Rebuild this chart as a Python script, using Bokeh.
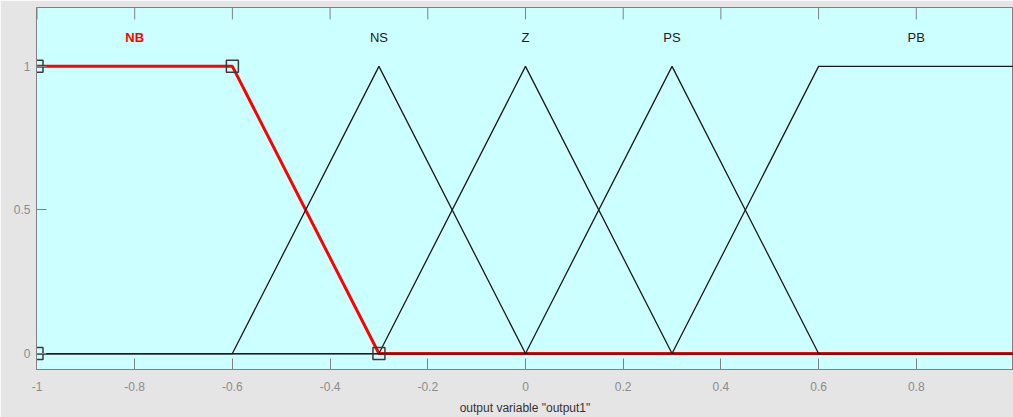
from bokeh.plotting import figure
from bokeh.models import Range1d, FixedTicker, ColumnDataSource
from bokeh.core.properties import value
from bokeh.embed import file_html
from bokeh.resources import INLINE

# ---- data ----
mf_names = ["NB", "NS", "Z", "PS", "PB"]
label_x = [-0.8, -0.3, 0.0, 0.3, 0.8]
label_y = [1.1, 1.1, 1.1, 1.1, 1.1]

nb_x = [-1.0, -0.6, -0.3, 1.0]
nb_y = [1.0, 1.0, 0.0, 0.0]
ns_x = [-1.0, -0.6, -0.3, 0.0, 1.0]
ns_y = [0.0, 0.0, 1.0, 0.0, 0.0]
z_x = [-1.0, -0.3, 0.0, 0.3, 1.0]
z_y = [0.0, 0.0, 1.0, 0.0, 0.0]
ps_x = [-1.0, 0.0, 0.3, 0.6, 1.0]
ps_y = [0.0, 0.0, 1.0, 0.0, 0.0]
pb_x = [-1.0, 0.3, 0.6, 1.0]
pb_y = [0.0, 0.0, 1.0, 1.0]

# NB parameter handles (trapmf [-1 -1 -0.6 -0.3])
handle_x = [-1.0, -1.0, -0.6, -0.3]
handle_y = [0.0, 1.0, 1.0, 0.0]

xticks = [-1.0, -0.8, -0.6, -0.4, -0.2, 0.0, 0.2, 0.4, 0.6, 0.8, 1.0]
xtick_labels = ["-1", "-0.8", "-0.6", "-0.4", "-0.2", "0", "0.2", "0.4", "0.6", "0.8", "1"]
yticks = [0.0, 0.5, 1.0]
ytick_labels = ["0", "0.5", "1"]
x_title = 'output variable "output1"'

FONT = "Liberation Sans"
GRAY = "#808080"

W, H = 1013, 417
BL, BT, BB = 36, 7, 47
X0, X1 = -1.001, 0.999
Y0, Y1 = -0.0556, 1.2049

p = figure(width=W, height=H, output_backend="svg", toolbar_location=None,
           x_range=Range1d(X0, X1), y_range=Range1d(Y0, Y1),
           min_border_left=BL, min_border_right=0, min_border_top=BT, min_border_bottom=BB)
p.background_fill_color = "#ccffff"
p.border_fill_color = "#e5e5e5"
p.outline_line_color = GRAY
p.grid.visible = False

# axes
xa = p.xaxis[0]
xa.ticker = FixedTicker(ticks=xticks)
xa.major_label_overrides = {t: l for t, l in zip(xticks, xtick_labels)}
xa.axis_label = x_title
ya = p.yaxis[0]
ya.ticker = FixedTicker(ticks=yticks)
ya.major_label_overrides = {t: l for t, l in zip(yticks, ytick_labels)}

for ax in [xa, ya]:
    ax.axis_line_color = GRAY
    ax.major_tick_line_color = GRAY
    ax.major_tick_in = 11
    ax.major_tick_out = 0
    ax.minor_tick_line_color = None
    ax.major_label_text_color = "#8c8c8c"
    ax.major_label_text_font = FONT
    ax.major_label_text_font_size = "12px"
ya.major_tick_in = 10
xa.major_label_standoff = 12
ya.major_label_standoff = 6
xa.axis_label_text_font = FONT
xa.axis_label_text_font_size = "12px"
xa.axis_label_text_font_style = "normal"
xa.axis_label_text_color = "#333333"
xa.axis_label_standoff = 7

# top-edge inward ticks (mirroring the bottom axis ticks)
frame_h = H - BT - BB
tick_len = 12 * (Y1 - Y0) / frame_h
p.segment(x0=xticks, y0=[Y1] * len(xticks), x1=xticks, y1=[Y1 - tick_len] * len(xticks),
          line_color=GRAY, line_width=1)

# membership functions: selected (red) first, others on top
p.line(nb_x, nb_y, line_color="#ff0000", line_width=3)
for xs, ys in [(ns_x, ns_y), (z_x, z_y), (ps_x, ps_y), (pb_x, pb_y)]:
    p.line(xs, ys, line_color="#1a1a1a", line_width=1.3)

p.scatter(handle_x, handle_y, marker="square", size=12, fill_color=None,
          line_color="#3a3a3a", line_width=1.5)

src = ColumnDataSource(dict(x=label_x, y=label_y, t=mf_names,
                            c=["#ff0000", "#1a1a1a", "#1a1a1a", "#1a1a1a", "#1a1a1a"],
                            s=["bold", "normal", "normal", "normal", "normal"]))
p.text(x="x", y="y", text="t", source=src, text_color="c", text_font_style="s",
       text_font=value(FONT), text_font_size="13px", text_align="center",
       text_baseline="middle")

open("out.html", "w").write(file_html(p, INLINE))
